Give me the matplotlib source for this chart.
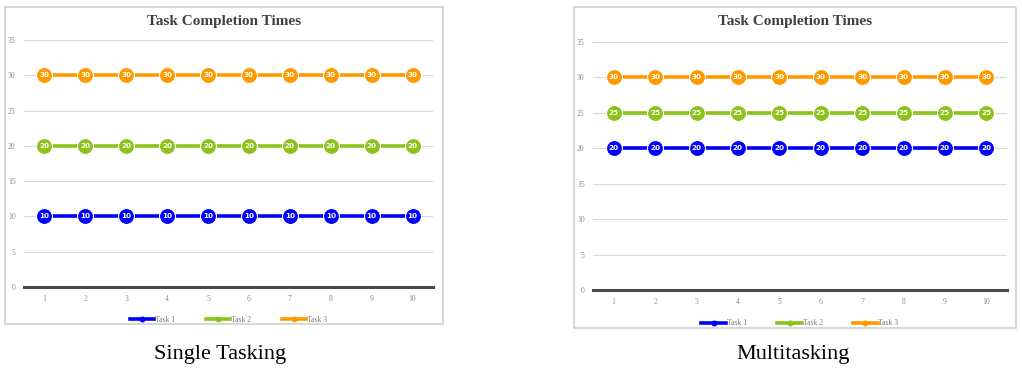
import matplotlib
matplotlib.use("Agg")
import matplotlib.pyplot as plt
import matplotlib.patches as patches

W, H = 1022, 380

runs = [1, 2, 3, 4, 5, 6, 7, 8, 9, 10]
task_names = ["Task 1", "Task 2", "Task 3"]
single_times = [[10] * 10, [20] * 10, [30] * 10]
multi_times = [[20] * 10, [25] * 10, [30] * 10]
captions = ["Single Tasking", "Multitasking"]
colors = ["#0000FF", "#8CC31A", "#FF9900"]

plt.rcParams['font.family'] = ['Liberation Serif', 'DejaVu Serif']

fig = plt.figure(figsize=(W / 100, H / 100), dpi=100)


def px(x0, y0, x1, y1):
    # pixel box (top-left origin) -> figure fraction rect
    return [x0 / W, 1 - y1 / H, (x1 - x0) / W, (y1 - y0) / H]


def draw_panel(box, area, data, caption, cap_xy):
    r = px(*box)
    fig.patches.append(patches.Rectangle((r[0], r[1]), r[2], r[3],
                                         transform=fig.transFigure, fill=False,
                                         edgecolor="#d0d0d0", linewidth=1.2))
    ax = fig.add_axes(px(*area))
    for name, vals, c in zip(task_names, data, colors):
        ax.plot(runs, vals, color=c, linewidth=2.6, marker="o", markersize=11.5,
                markerfacecolor=c, markeredgecolor="white", markeredgewidth=0.8,
                label=name, zorder=3)
        for x, v in zip(runs, vals):
            ax.text(x, v, str(v), color="white", fontsize=5.2, fontweight="bold",
                    family="DejaVu Sans", ha="center", va="center", zorder=4)
    ax.set_xlim(0.5, 10.5)
    ax.set_ylim(0, 35)
    ax.set_yticks(range(0, 36, 5))
    ax.set_xticks(runs)
    ax.tick_params(length=0, labelsize=5.5, labelcolor="#8a8a8a", pad=6)
    ax.grid(axis="y", color="#d9d9d9", linewidth=0.8)
    ax.set_axisbelow(True)
    for s in ax.spines.values():
        s.set_visible(False)
    ax.axhline(0, color="#4a4a4a", linewidth=2.2, zorder=2, clip_on=False)
    leg = ax.legend(loc="upper center", bbox_to_anchor=(0.5, -0.09), ncol=3,
                    frameon=False, fontsize=5.5, handlelength=3.2, columnspacing=4,
                    handletextpad=0.1, markerscale=0.3)
    for h, c in zip(leg.legend_handles, colors):
        h.set_markeredgecolor(c)
    for t in leg.get_texts():
        t.set_color("#777777")
    bx0, by0, bx1, by1 = box
    fig.text(((bx0 + bx1) / 2) / W, 1 - 21 / H, "Task Completion Times", ha="center",
             va="center", fontsize=11, fontweight="bold", color="#404040")
    fig.text(cap_xy[0] / W, 1 - cap_xy[1] / H, caption, ha="center", va="center",
             fontsize=16, color="black")
    return ax


draw_panel((5, 7, 443, 324), (24, 40, 433, 287), single_times, captions[0], (220, 355))
draw_panel((574, 7, 1016, 328), (593, 42, 1007, 290), multi_times, captions[1], (793, 355))

plt.savefig("out.png", dpi=100)
